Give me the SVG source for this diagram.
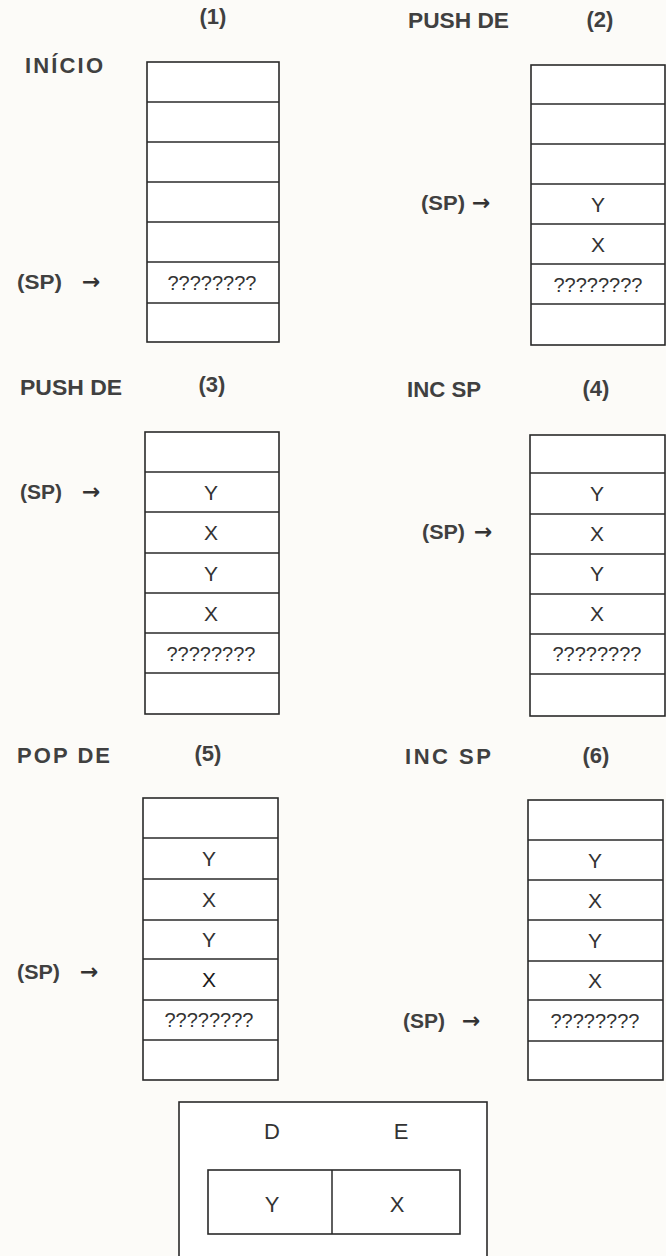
<svg xmlns="http://www.w3.org/2000/svg" width="666" height="1256" viewBox="0 0 666 1256">
<style>
.bg{fill:#fcfbf8}
.box{fill:#ffffff;stroke:#2a2a2a;stroke-width:1.6}
.ln{stroke:#2a2a2a;stroke-width:1.5}
.hd{font-family:"Liberation Sans",Arial,sans-serif;font-size:22px;font-weight:bold;fill:#404040}
.num{font-family:"Liberation Sans",Arial,sans-serif;font-size:22px;font-weight:bold;fill:#404040;text-anchor:middle}
.sp{font-family:"Liberation Sans",Arial,sans-serif;font-size:21px;font-weight:bold;fill:#404040}
.arr{font-family:"DejaVu Sans","Liberation Sans",sans-serif;font-size:22px;font-weight:bold;fill:#333}
.c{font-family:"Liberation Sans",Arial,sans-serif;font-size:21px;fill:#333;text-anchor:middle}
.r{font-family:"Liberation Sans",Arial,sans-serif;font-size:22px;fill:#333;text-anchor:middle}
.q{font-family:"Liberation Sans",Arial,sans-serif;font-size:20px;fill:#333;text-anchor:middle}
</style>
<rect class="bg" x="0" y="0" width="666" height="1256"/>

<!-- Headings -->
<text class="num" x="213" y="24">(1)</text>
<text class="hd" x="25" y="73" textLength="78" lengthAdjust="spacing">INÍCIO</text>
<text class="hd" x="408" y="28" textLength="101" lengthAdjust="spacingAndGlyphs">PUSH DE</text>
<text class="num" x="600" y="27">(2)</text>
<text class="hd" x="20" y="395" textLength="102" lengthAdjust="spacingAndGlyphs">PUSH DE</text>
<text class="num" x="212" y="392">(3)</text>
<text class="hd" x="407" y="397" textLength="74" lengthAdjust="spacingAndGlyphs">INC SP</text>
<text class="num" x="596" y="396">(4)</text>
<text class="hd" x="17" y="763" textLength="93" lengthAdjust="spacing">POP  DE</text>
<text class="num" x="208" y="761">(5)</text>
<text class="hd" x="405" y="764" textLength="86" lengthAdjust="spacing">INC  SP</text>
<text class="num" x="596" y="763">(6)</text>

<!-- Stack 1 -->
<g id="stack1">
<rect class="box" x="147" y="62" width="132" height="280"/>
<line class="ln" x1="147" y1="102" x2="279" y2="102"/>
<line class="ln" x1="147" y1="142" x2="279" y2="142"/>
<line class="ln" x1="147" y1="182" x2="279" y2="182"/>
<line class="ln" x1="147" y1="222" x2="279" y2="222"/>
<line class="ln" x1="147" y1="262" x2="279" y2="262"/>
<line class="ln" x1="147" y1="303" x2="279" y2="303"/>
<text class="q" x="212" y="290">????????</text>
</g>

<!-- Stack 2 -->
<g id="stack2">
<rect class="box" x="531" y="65" width="134" height="280"/>
<line class="ln" x1="531" y1="104" x2="665" y2="104"/>
<line class="ln" x1="531" y1="144" x2="665" y2="144"/>
<line class="ln" x1="531" y1="184" x2="665" y2="184"/>
<line class="ln" x1="531" y1="224" x2="665" y2="224"/>
<line class="ln" x1="531" y1="264" x2="665" y2="264"/>
<line class="ln" x1="531" y1="304" x2="665" y2="304"/>
<text class="c" x="598" y="212">Y</text>
<text class="c" x="598" y="252">X</text>
<text class="q" x="598" y="292">????????</text>
</g>

<!-- Stack 3 -->
<g id="stack3">
<rect class="box" x="145" y="432" width="134" height="282"/>
<line class="ln" x1="145" y1="472" x2="279" y2="472"/>
<line class="ln" x1="145" y1="512" x2="279" y2="512"/>
<line class="ln" x1="145" y1="553" x2="279" y2="553"/>
<line class="ln" x1="145" y1="593" x2="279" y2="593"/>
<line class="ln" x1="145" y1="633" x2="279" y2="633"/>
<line class="ln" x1="145" y1="673" x2="279" y2="673"/>
<text class="c" x="211" y="500">Y</text>
<text class="c" x="211" y="540">X</text>
<text class="c" x="211" y="581">Y</text>
<text class="c" x="211" y="621">X</text>
<text class="q" x="211" y="661">????????</text>
</g>

<!-- Stack 4 -->
<g id="stack4">
<rect class="box" x="530" y="435" width="135" height="281"/>
<line class="ln" x1="530" y1="473" x2="665" y2="473"/>
<line class="ln" x1="530" y1="514" x2="665" y2="514"/>
<line class="ln" x1="530" y1="554" x2="665" y2="554"/>
<line class="ln" x1="530" y1="594" x2="665" y2="594"/>
<line class="ln" x1="530" y1="634" x2="665" y2="634"/>
<line class="ln" x1="530" y1="674" x2="665" y2="674"/>
<text class="c" x="597" y="501">Y</text>
<text class="c" x="597" y="541">X</text>
<text class="c" x="597" y="581">Y</text>
<text class="c" x="597" y="621">X</text>
<text class="q" x="597" y="661">????????</text>
</g>

<!-- Stack 5 -->
<g id="stack5">
<rect class="box" x="143" y="798" width="135" height="282"/>
<line class="ln" x1="143" y1="838" x2="278" y2="838"/>
<line class="ln" x1="143" y1="879" x2="278" y2="879"/>
<line class="ln" x1="143" y1="920" x2="278" y2="920"/>
<line class="ln" x1="143" y1="959" x2="278" y2="959"/>
<line class="ln" x1="143" y1="1000" x2="278" y2="1000"/>
<line class="ln" x1="143" y1="1040" x2="278" y2="1040"/>
<text class="c" x="209" y="866">Y</text>
<text class="c" x="209" y="907">X</text>
<text class="c" x="209" y="947">Y</text>
<text class="c" x="209" y="987" style="fill:#1a1a1a">X</text>
<text class="q" x="209" y="1027">????????</text>
</g>

<!-- Stack 6 -->
<g id="stack6">
<rect class="box" x="528" y="800" width="135" height="280"/>
<line class="ln" x1="528" y1="840" x2="663" y2="840"/>
<line class="ln" x1="528" y1="880" x2="663" y2="880"/>
<line class="ln" x1="528" y1="920" x2="663" y2="920"/>
<line class="ln" x1="528" y1="961" x2="663" y2="961"/>
<line class="ln" x1="528" y1="1000" x2="663" y2="1000"/>
<line class="ln" x1="528" y1="1041" x2="663" y2="1041"/>
<text class="c" x="595" y="868">Y</text>
<text class="c" x="595" y="908">X</text>
<text class="c" x="595" y="948">Y</text>
<text class="c" x="595" y="988">X</text>
<text class="q" x="595" y="1028">????????</text>
</g>

<!-- SP pointers -->
<g id="pointers">
<text class="sp" x="17" y="289" textLength="45" lengthAdjust="spacingAndGlyphs">(SP)</text><text class="arr" x="82" y="289">→</text>
<text class="sp" x="421" y="210" textLength="44" lengthAdjust="spacingAndGlyphs">(SP)</text><text class="arr" x="472" y="210">→</text>
<text class="sp" x="20" y="499" textLength="42" lengthAdjust="spacingAndGlyphs">(SP)</text><text class="arr" x="82" y="499">→</text>
<text class="sp" x="422" y="539" textLength="43" lengthAdjust="spacingAndGlyphs">(SP)</text><text class="arr" x="474" y="539">→</text>
<text class="sp" x="17" y="979" textLength="43" lengthAdjust="spacingAndGlyphs">(SP)</text><text class="arr" x="80" y="979">→</text>
<text class="sp" x="403" y="1028" textLength="42" lengthAdjust="spacingAndGlyphs">(SP)</text><text class="arr" x="462" y="1028">→</text>
</g>

<!-- DE register -->
<g id="register">
<rect class="box" x="179" y="1102" width="308" height="170"/>
<text class="r" x="272" y="1139">D</text>
<text class="r" x="401" y="1139">E</text>
<rect class="box" x="208" y="1170" width="252" height="64"/>
<line class="ln" x1="332" y1="1170" x2="332" y2="1234"/>
<text class="r" x="272" y="1212">Y</text>
<text class="r" x="397" y="1212">X</text>
</g>
</svg>
